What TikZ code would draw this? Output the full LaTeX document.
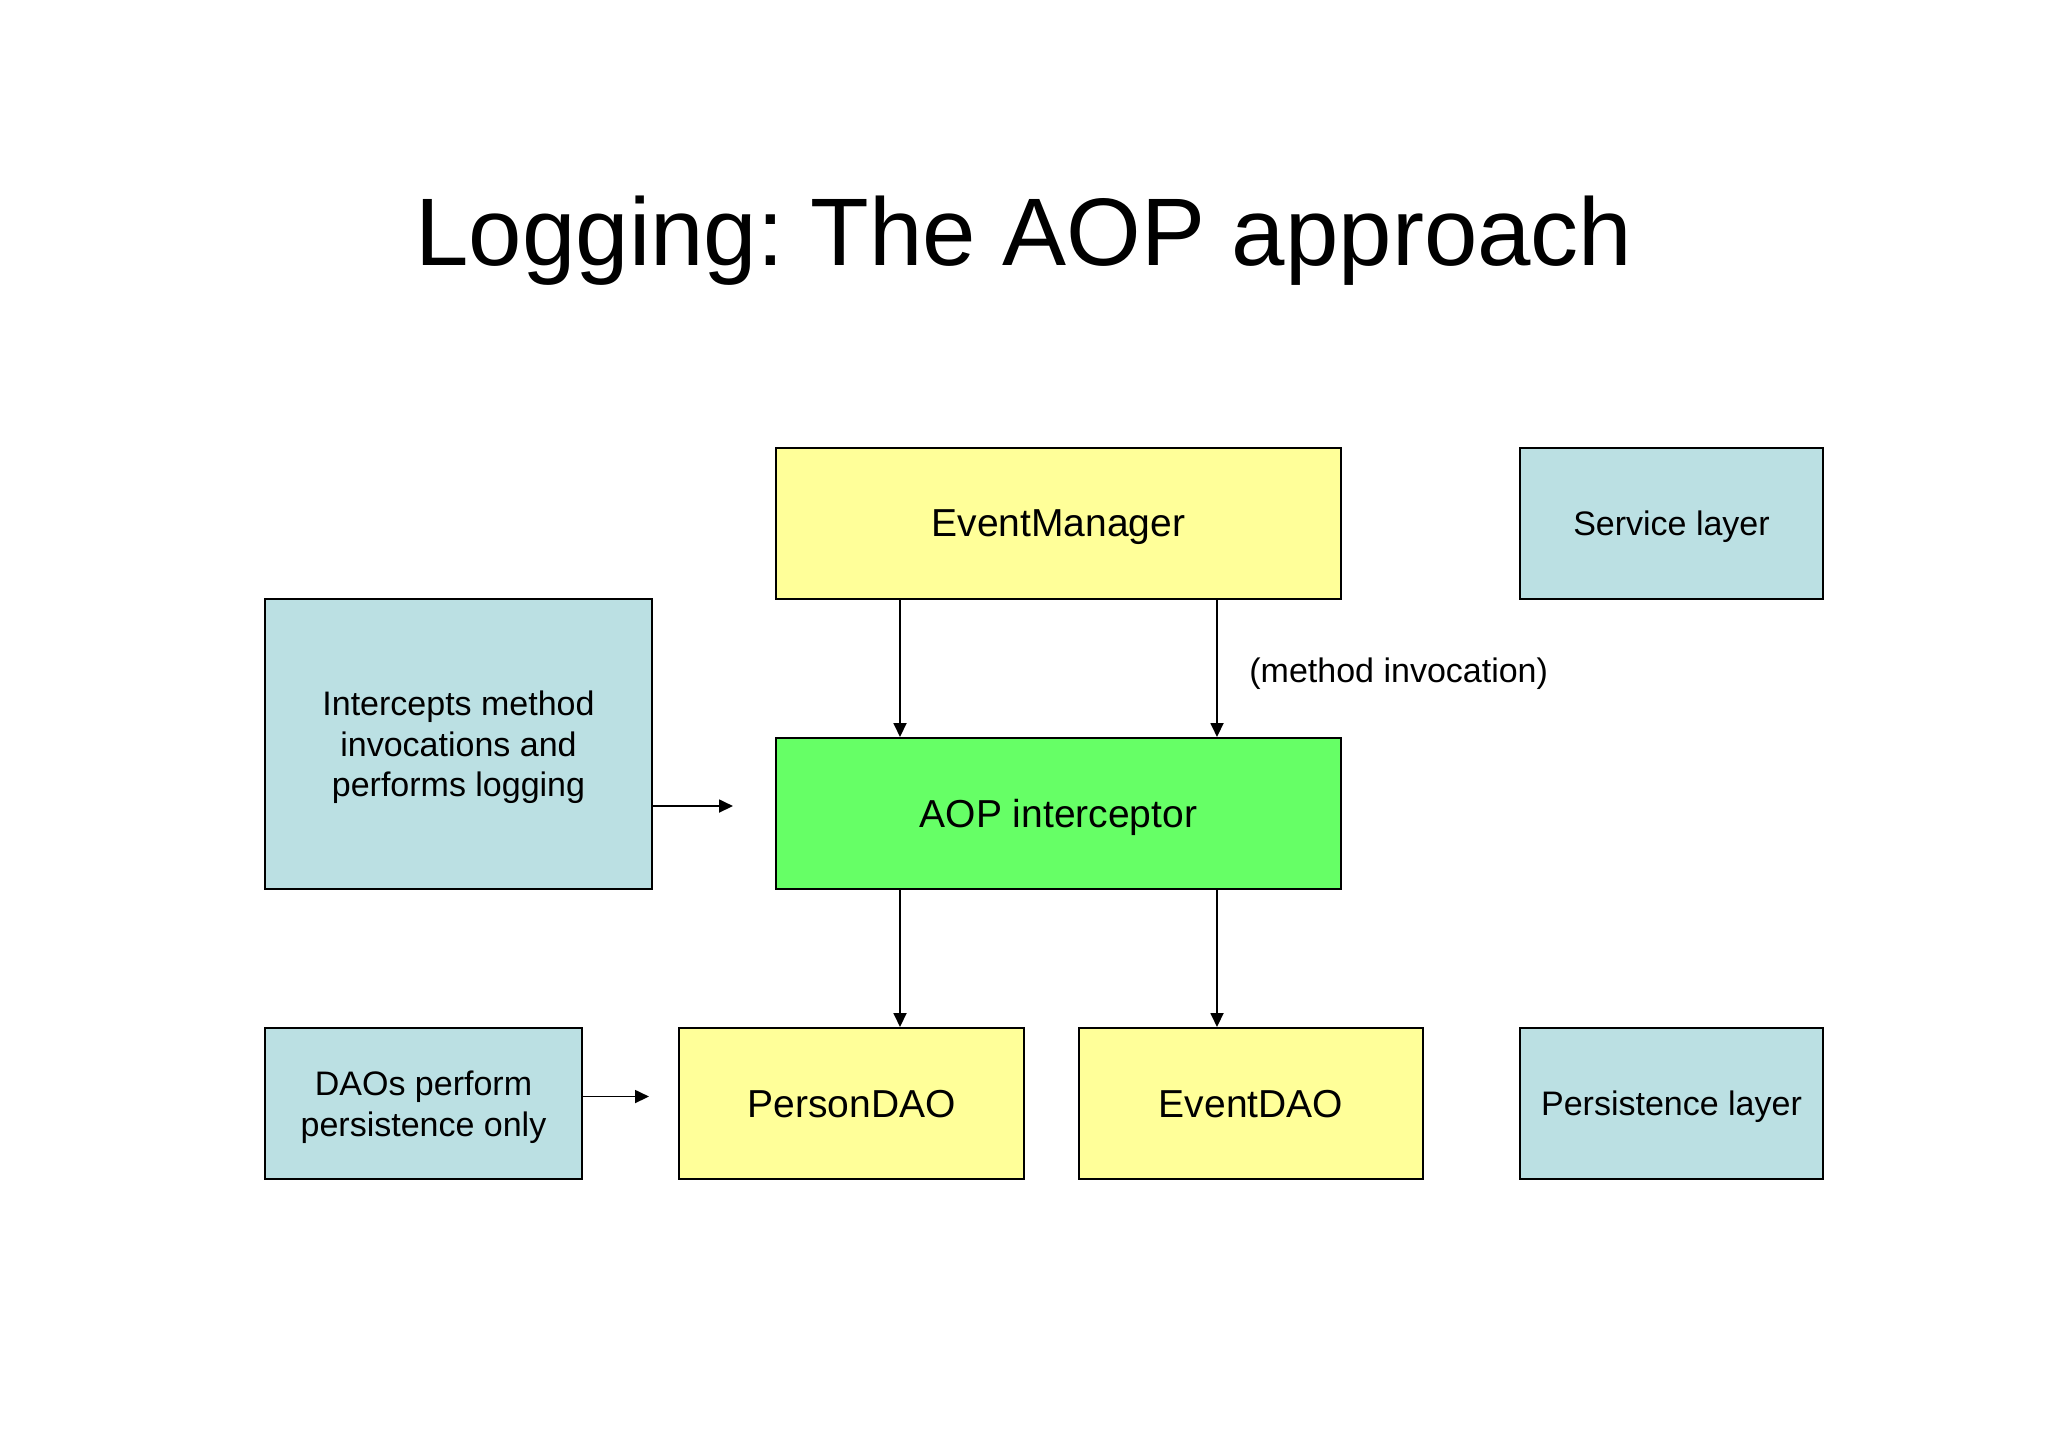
\documentclass[tikz,border=0pt]{standalone}
\usepackage{fontspec}
\setmainfont{Liberation Sans}
\usepackage{tikz}
\usetikzlibrary{arrows.meta}
\definecolor{boxyellow}{RGB}{255,255,153}
\definecolor{boxgreen}{RGB}{102,255,102}
\definecolor{boxblue}{RGB}{187,224,227}
\frenchspacing

\begin{document}
\begin{tikzpicture}[x=1pt, y=-1pt]
			\tikzstyle{BoxStyle}  = [draw, line width=1pt, inner sep=0pt, align=center, text depth=-2.5pt]
			\tikzstyle{MainBox}   = [BoxStyle, font=\fontsize{19.5}{23}\selectfont, minimum height=75.5pt]
			\tikzstyle{NoteBox}   = [BoxStyle, fill=boxblue, font=\fontsize{17}{20.3}\selectfont]
			\tikzstyle{ArrowStyle} = [-{Triangle[length=7pt,width=6.5pt]}, line width=0.9pt]
			\useasboundingbox (0,0) rectangle (1024,724);
			%\draw[help lines] (0,0) grid[step=50] (1024,724);
			\node[anchor=base, font=\fontsize{48}{58}\selectfont] (title) at (512,132.5) {Logging: The AOP approach};
			
			\node[MainBox, fill=boxyellow, minimum width=282.5pt] (em) at (529.25,261.75) {EventManager};
			\node[NoteBox, minimum width=151.5pt, minimum height=75.5pt] (service) at (835.75,261.75) {Service layer};
			\node[NoteBox, minimum width=193.5pt, minimum height=145pt] (icpt) at (229.25,372) {Intercepts method\\invocations and\\performs logging};
			\node[MainBox, fill=boxgreen, minimum width=282.5pt] (aop) at (529.25,406.75) {AOP interceptor};
			
			\node[MainBox, fill=boxyellow, minimum width=172.5pt] (person) at (425.75,551.75) {PersonDAO};
			\node[MainBox, fill=boxyellow, minimum width=172pt] (event) at (625.5,551.75) {EventDAO};
			\node[NoteBox, minimum width=151.5pt, minimum height=75.5pt] (persist) at (835.75,551.75) {Persistence layer};
			\node[NoteBox, minimum width=158.5pt, minimum height=75.5pt] (daos) at (211.75,551.75) {DAOs perform\\persistence only};
			
			\node[anchor=base west, font=\fontsize{17}{20.3}\selectfont, inner sep=0pt] (invoc) at (624.5,341) {(method invocation)};
			
			\draw[ArrowStyle] ([xshift=-79.25pt]em.south) -- ([xshift=-79.25pt]aop.north);
			\draw[ArrowStyle] ([xshift=79.25pt]em.south) -- ([xshift=79.25pt]aop.north);
			\draw[ArrowStyle] ([xshift=-79.25pt]aop.south) -- ([xshift=-79.25pt]aop.south |- person.north);
			\draw[ArrowStyle] ([xshift=79.25pt]aop.south) -- ([xshift=79.25pt]aop.south |- event.north);
			\draw[ArrowStyle, shorten >=21pt] ([yshift=-31pt]icpt.east) -- ([yshift=-31pt]icpt.east -| aop.west);
			\draw[ArrowStyle, shorten >=14.5pt] ([yshift=3.5pt]daos.east) -- ([yshift=3.5pt]daos.east -| person.west);
		\end{tikzpicture}
\end{document}
